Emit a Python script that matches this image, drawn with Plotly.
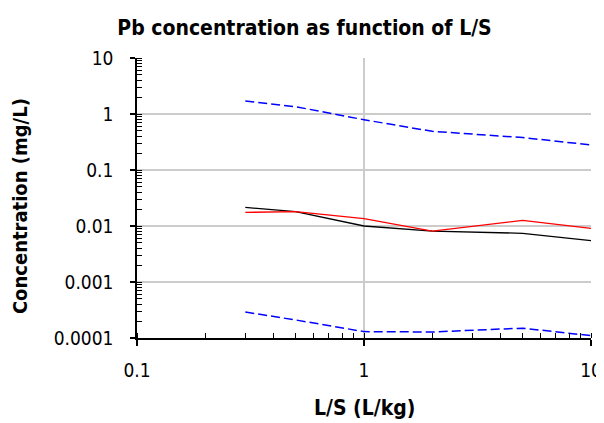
import plotly.graph_objects as go

# L/S values (L/kg)
ls = [0.3, 0.5, 1, 2, 5, 10]

# Pb concentration (mg/L)
upper = [1.70, 1.35, 0.79, 0.49, 0.38, 0.28]
black = [0.0215, 0.018, 0.0100, 0.0081, 0.0074, 0.0055]
red = [0.0175, 0.018, 0.0135, 0.0081, 0.0126, 0.0091]
lower = [0.00029, 0.00021, 0.00013, 0.000128, 0.00015, 0.00011]

x_ticks = [0.1, 1, 10]
x_labels = ["0.1", "1", "10"]
y_ticks = [0.0001, 0.001, 0.01, 0.1, 1, 10]
y_labels = ["0.0001", "0.001", "0.01", "0.1", "1", "10"]

font = "DejaVu Sans Condensed"

fig = go.Figure()
fig.add_trace(go.Scatter(x=ls, y=upper, mode="lines",
                         line=dict(color="#0000ff", width=1.5, dash="9px,4px")))
fig.add_trace(go.Scatter(x=ls, y=lower, mode="lines",
                         line=dict(color="#0000ff", width=1.5, dash="9px,4px")))
fig.add_trace(go.Scatter(x=ls, y=black, mode="lines",
                         line=dict(color="#000000", width=1.3)))
fig.add_trace(go.Scatter(x=ls, y=red, mode="lines",
                         line=dict(color="#ff0000", width=1.3)))

# page body has an 8px margin, so the figure is a bit smaller than the window
fig.update_layout(
    width=596, height=415,
    margin=dict(l=129, r=13, t=50, b=85),
    paper_bgcolor="white", plot_bgcolor="white",
    showlegend=False,
    font=dict(family=font, size=19, color="black"),
    title=dict(text="<b>Pb concentration as function of L/S</b>",
               x=0.4975, xanchor="center", y=0.952, yanchor="middle",
               font=dict(family=font, size=21, color="black")),
    annotations=[
        dict(text="<b>L/S (L/kg)</b>", xref="paper", yref="paper",
             x=0.5, y=-0.25, xanchor="center", yanchor="middle",
             showarrow=False, font=dict(size=21)),
        dict(text="<b>Concentration (mg/L)</b>", xref="paper", yref="paper",
             x=-0.2577, y=0.471, xanchor="center", yanchor="middle",
             textangle=-90, showarrow=False, font=dict(size=20)),
    ],
)

fig.update_xaxes(
    type="log", range=[-1, 1], automargin=False,
    tickvals=x_ticks, ticktext=x_labels, ticklabeloverflow="allow",
    showgrid=True, gridcolor="#cccccc", gridwidth=2,
    showline=True, linecolor="black", linewidth=1.5,
    ticks="outside", ticklen=6, tickcolor="black", tickwidth=1.5,
    minor=dict(dtick="D1", ticks="inside", ticklen=5, tickcolor="black",
               tickwidth=1, showgrid=False),
    tickfont=dict(size=19), ticklabelstandoff=8,
    zeroline=False,
)
fig.update_yaxes(
    type="log", range=[-4, 1], automargin=False,
    tickvals=y_ticks, ticktext=y_labels,
    showgrid=True, gridcolor="#cccccc", gridwidth=2,
    showline=True, linecolor="black", linewidth=1.5,
    ticks="outside", ticklen=5, tickcolor="black", tickwidth=1.5,
    minor=dict(dtick="D1", ticks="inside", ticklen=5, tickcolor="black",
               tickwidth=1, showgrid=False),
    tickfont=dict(size=19), ticklabelstandoff=13,
    zeroline=False,
)

fig.write_html("out.html")
